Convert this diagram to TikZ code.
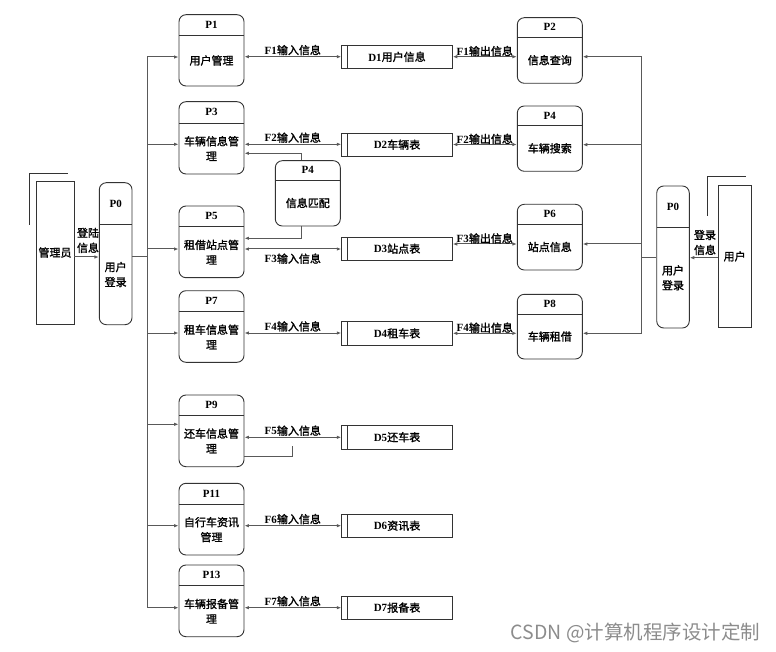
\documentclass[tikz,border=0pt]{standalone}
\usepackage{fontspec}
\setmainfont{Liberation Serif}
\newfontfamily\cjk{Noto Sans CJK SC}[FakeBold=1.6]
\newfontfamily\wmfont{Noto Sans CJK SC}
\usetikzlibrary{arrows.meta,fit,calc}

\tikzset{
  boxline/.style={draw=black!80, line width=0.9pt},
  procbox/.style={boxline, rounded corners=7pt, inner sep=0pt},
  storebox/.style={boxline, inner sep=0pt},
  conn/.style={draw=black!65, line width=1pt},
  arr/.style={-{Latex[length=4.5pt,width=3.5pt]}},
  barr/.style={{Latex[length=4.5pt,width=3.5pt]}-{Latex[length=4.5pt,width=3.5pt]}},
  lbl/.style={font=\fontsize{11pt}{13pt}\selectfont, inner sep=0pt},
  ttl/.style={font=\fontsize{11pt}{13pt}\selectfont\bfseries, inner sep=0pt},
  cjktxt/.style={font=\cjk\fontsize{11pt}{15pt}\selectfont, align=center, inner sep=0pt},
  wm/.style={font=\wmfont\fontsize{19.5pt}{21pt}\selectfont, text=black!45, inner sep=0pt},
}

\newcommand\mx[2]{\textbf{#1}{\cjk #2}}

\newcommand\proc[8]{%
  \coordinate (#1-tl) at (#2,#3);
  \coordinate (#1-br) at (#4,#5);
  \node[procbox, fit=(#1-tl)(#1-br)] (#1) {};
  \draw[boxline] (#2,#6) -- (#4,#6);
  \node[ttl] (#1-title) at ($(#2,#3)!.5!(#4,#6)$) {#7};
  \node[cjktxt] (#1-body) at ($(#2,#6)!.5!(#4,#5)$) {#8};
}

\newcommand\store[6]{%
  \coordinate (#1-tl) at (#2,#3);
  \coordinate (#1-br) at (#4,#5);
  \node[storebox, fit=(#1-tl)(#1-br)] (#1) {};
  \draw[boxline] ($(#2,#3)+(5.6,0)$) -- ($(#2,#5)+(5.6,0)$);
  \node[lbl] (#1-text) at (#1) {#6};
}

\begin{document}
\begin{tikzpicture}[x=1pt,y=-1pt]
\useasboundingbox (0,0) rectangle (776,652);

% ---------- external entities ----------
\coordinate (adm-tl) at (36,181); \coordinate (adm-br) at (74,324);
\node[storebox, fit=(adm-tl)(adm-br)] (admin) {};
\node[cjktxt] (admin-text) at (admin) {管理员};
\coordinate (adm-l1) at (29,225); \coordinate (adm-l2) at (29,173); \coordinate (adm-l3) at (68,173);
\draw[boxline] (adm-l1) -- (adm-l2) -- (adm-l3);

\coordinate (usr-tl) at (718.3,185); \coordinate (usr-br) at (751,327.7);
\node[storebox, fit=(usr-tl)(usr-br)] (user) {};
\node[cjktxt] (user-text) at (user) {用户};
\coordinate (usr-l1) at (707,216); \coordinate (usr-l2) at (707,176.7); \coordinate (usr-l3) at (746,176.7);
\draw[boxline] (usr-l1) -- (usr-l2) -- (usr-l3);

% ---------- login processes ----------
\proc{P0L}{99.3}{182.7}{132}{324.7}{224.3}{P0}{用户\\登录}
\proc{P0R}{656.7}{186}{689.3}{328}{227.7}{P0}{用户\\登录}

% ---------- left column ----------
\proc{P1}{179}{14.7}{244}{86}{35}{P1}{用户管理}
\proc{P3}{179}{101.7}{244}{174}{123}{P3}{车辆信息管\\理}
\proc{P5}{179}{206}{244}{277.7}{226.7}{P5}{租借站点管\\理}
\proc{P7}{179}{290.7}{244}{362.3}{311.7}{P7}{租车信息管\\理}
\proc{P9}{179}{395}{244}{466.7}{415}{P9}{还车信息管\\理}
\proc{P11}{179}{483.3}{244}{555}{504.3}{P11}{自行车资讯\\管理}
\proc{P13}{179}{565}{244}{636.7}{585.7}{P13}{车辆报备管\\理}

% middle process
\proc{P4m}{275.3}{160.7}{340.3}{226}{180}{P4}{信息匹配}

% ---------- right column ----------
\proc{P2}{517.3}{17.7}{582.3}{83.3}{37}{P2}{信息查询}
\proc{P4r}{517.3}{106}{582.3}{171.3}{125.3}{P4}{车辆搜索}
\proc{P6}{517.3}{204.3}{582.3}{270}{224}{P6}{站点信息}
\proc{P8}{517.3}{294.3}{582.3}{359}{314}{P8}{车辆租借}

% ---------- data stores ----------
\store{D1}{341.7}{45}{452.3}{68.7}{\mx{D1}{用户信息}}
\store{D2}{341.7}{133.3}{452.3}{156}{\mx{D2}{车辆表}}
\store{D3}{341.7}{237.3}{452.3}{260}{\mx{D3}{站点表}}
\store{D4}{341.7}{321.7}{452.3}{345}{\mx{D4}{租车表}}
\store{D5}{341.7}{425}{452.3}{449.3}{\mx{D5}{还车表}}
\store{D6}{341.7}{514.3}{452.3}{537.3}{\mx{D6}{资讯表}}
\store{D7}{341.7}{596}{452.3}{619.3}{\mx{D7}{报备表}}

% ---------- admin login ----------
\coordinate (am) at (80,257);
\draw[conn,arr] (am -| admin.east) -- (am -| P0L.west);
\node[cjktxt] (admin-lbl) at (88,240.4) {登陆\\信息};

% left bus
\coordinate (lbm) at (147,257);
\coordinate (b1) at (147,57);
\coordinate (b2) at (147,144.3);
\coordinate (b3) at (147,249);
\coordinate (b4) at (147,333);
\coordinate (b5) at (147,424.3);
\coordinate (b6) at (147,525.7);
\coordinate (b7) at (147,607.7);
\draw[conn] (lbm -| P0L.east) -- (lbm);
\draw[conn] (b1) -- (b7);
\draw[conn,arr] (b1) -- (b1 -| P1.west);
\draw[conn,arr] (b2) -- (b2 -| P3.west);
\draw[conn,arr] (b3) -- (b3 -| P5.west);
\draw[conn,arr] (b4) -- (b4 -| P7.west);
\draw[conn,arr] (b5) -- (b5 -| P9.west);
\draw[conn,arr] (b6) -- (b6 -| P11.west);
\draw[conn,arr] (b7) -- (b7 -| P13.west);

% input flows
\coordinate (f1) at (300,56.7);
\coordinate (f2) at (300,144.3);
\coordinate (f3) at (300,249);
\coordinate (f4) at (300,333);
\coordinate (f5) at (300,437.3);
\coordinate (f6) at (300,525.7);
\coordinate (f7) at (300,607.7);
\draw[conn,barr] (f1 -| P1.east) -- (f1 -| D1.west) node[lbl,midway,above=1pt] {\mx{F1}{输入信息}};
\draw[conn,barr] (f2 -| P3.east) -- (f2 -| D2.west) node[lbl,midway,above=1pt] {\mx{F2}{输入信息}};
\draw[conn,barr] (f3 -| P5.east) -- (f3 -| D3.west) node[lbl,midway,below=4pt] {\mx{F3}{输入信息}};
\draw[conn,barr] (f4 -| P7.east) -- (f4 -| D4.west) node[lbl,midway,above=1pt] {\mx{F4}{输入信息}};
\draw[conn,barr] (f5 -| P9.east) -- (f5 -| D5.west) node[lbl,midway,above=1pt] {\mx{F5}{输入信息}};
\draw[conn,barr] (f6 -| P11.east) -- (f6 -| D6.west) node[lbl,midway,above=1pt] {\mx{F6}{输入信息}};
\draw[conn,barr] (f7 -| P13.east) -- (f7 -| D7.west) node[lbl,midway,above=1pt] {\mx{F7}{输入信息}};

% P4 matching links
\coordinate (c1) at (301.5,153.3);
\coordinate (c2) at (301.5,238.3);
\draw[conn,arr] (c1 |- P4m.north) -- (c1) -- (c1 -| P3.east);
\draw[conn,arr] (c2 |- P4m.south) -- (c2) -- (c2 -| P5.east);

% P9 stub
\coordinate (s1) at (292.3,456);
\coordinate (s2) at (292.3,445.7);
\draw[conn] (s1 -| P9.east) -- (s1) -- (s2);

% output flows
\coordinate (o1) at (480,56.7);
\coordinate (o2) at (480,144.5);
\coordinate (o3) at (480,244);
\coordinate (o4) at (480,333.3);
\draw[conn,barr] (o1 -| D1.east) -- (o1 -| P2.west) node[lbl,midway,above=0pt] {\mx{F1}{输出信息}};
\draw[conn,barr] (o2 -| D2.east) -- (o2 -| P4r.west) node[lbl,midway,above=0pt] {\mx{F2}{输出信息}};
\draw[conn,barr] (o3 -| D3.east) -- (o3 -| P6.west) node[lbl,midway,above=0pt] {\mx{F3}{输出信息}};
\draw[conn,barr] (o4 -| D4.east) -- (o4 -| P8.west) node[lbl,midway,above=0pt] {\mx{F4}{输出信息}};

% right bus
\coordinate (r1) at (641.7,56.7);
\coordinate (r2) at (641.7,144.7);
\coordinate (r3) at (641.7,244);
\coordinate (r4) at (641.7,333.3);
\coordinate (rm) at (641.7,257.7);
\draw[conn] (r1) -- (r4);
\draw[conn,arr] (r1) -- (r1 -| P2.east);
\draw[conn,arr] (r2) -- (r2 -| P4r.east);
\draw[conn,arr] (r3) -- (r3 -| P6.east);
\draw[conn,arr] (r4) -- (r4 -| P8.east);
\draw[conn] (rm) -- (rm -| P0R.west);

% user login
\coordinate (um) at (700,257.7);
\draw[conn,arr] (um -| user.west) -- (um -| P0R.east);
\node[cjktxt] (user-lbl) at (705,242.5) {登录\\信息};

% watermark
\node[wm] (mark) at (635.5,633.3) {CSDN @计算机程序设计定制};
\end{tikzpicture}
\end{document}
